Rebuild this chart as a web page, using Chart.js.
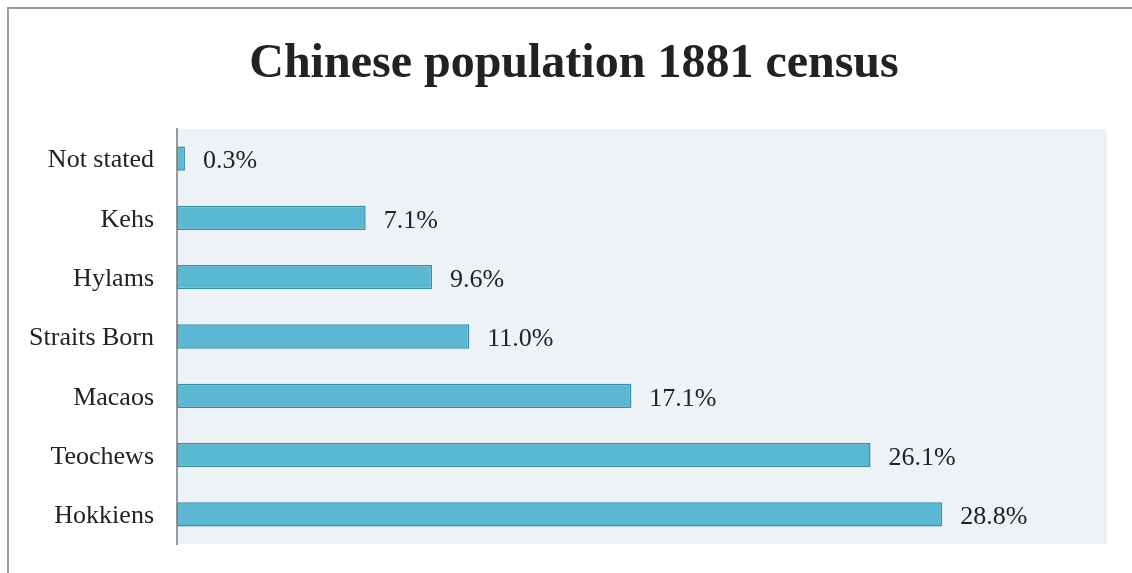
<!DOCTYPE html>
<html>
<head>
<meta charset="utf-8">
<title>Chinese population 1881 census</title>
<script src="https://cdn.jsdelivr.net/npm/chart.js@4"></script>
<style>
  html, body { margin: 0; padding: 0; background: #fff; }
  #frame {
    position: absolute; left: 7px; top: 7px; width: 1125px; height: 566px;
    border-top: 2px solid #9c9c9c; border-left: 2px solid #9c9c9c;
    box-sizing: border-box;
  }
  #wrap { position: absolute; left: 0; top: 0; width: 1132px; height: 573px; }
</style>
</head>
<body>
<div id="frame"></div>
<div id="wrap"><canvas id="chart" width="1132" height="573"></canvas></div>
<script>
'use strict';

var titleText = 'Chinese population 1881 census';
// Dialect groups, top to bottom
var groups = ['Not stated', 'Kehs', 'Hylams', 'Straits Born', 'Macaos', 'Teochews', 'Hokkiens'];
// Share of the Chinese population, percent
var shares = [0.3, 7.1, 9.6, 11.0, 17.1, 26.1, 28.8];
var axisMax = 35;

var serif = '"Liberation Serif", "Times New Roman", serif';

// Light panel behind the bars
var plotBackground = {
  id: 'plotBackground',
  beforeDraw: function(chart) {
    var a = chart.chartArea;
    var ctx = chart.ctx;
    ctx.save();
    ctx.fillStyle = '#ecf2f5';
    ctx.fillRect(a.left, a.top, a.right - a.left, a.bottom - a.top);
    ctx.restore();
  }
};

// Big bold heading, centred on the page rather than on the plot
var heading = {
  id: 'heading',
  afterDraw: function(chart) {
    var ctx = chart.ctx;
    ctx.save();
    ctx.font = 'bold 48px ' + serif;
    ctx.fillStyle = '#222';
    ctx.textAlign = 'center';
    ctx.textBaseline = 'middle';
    ctx.fillText(titleText, 574, 65);
    ctx.restore();
  }
};

// Percentage written just past the end of each bar
var valueLabels = {
  id: 'valueLabels',
  afterDatasetsDraw: function(chart) {
    var ctx = chart.ctx;
    var meta = chart.getDatasetMeta(0);
    ctx.save();
    ctx.font = '26px ' + serif;
    ctx.fillStyle = '#222';
    ctx.textAlign = 'left';
    ctx.textBaseline = 'middle';
    meta.data.forEach(function(bar, i) {
      ctx.fillText(shares[i].toFixed(1) + '%', bar.x + 18, bar.y + 3);
    });
    ctx.restore();
  }
};

new Chart(document.getElementById('chart'), {
  type: 'bar',
  data: {
    labels: groups,
    datasets: [{
      data: shares,
      backgroundColor: '#5bb8d3',
      borderColor: '#3a8ea4',
      borderWidth: 1.5,
      borderSkipped: false,
      categoryPercentage: 1,
      barPercentage: 0.41
    }]
  },
  options: {
    indexAxis: 'y',
    responsive: false,
    animation: false,
    layout: { padding: { left: 0, right: 25, top: 129, bottom: 29 } },
    plugins: {
      legend: { display: false },
      tooltip: { enabled: false },
      title: { display: false }
    },
    scales: {
      x: {
        display: false,
        min: 0,
        max: axisMax
      },
      y: {
        grid: { display: false, drawTicks: false },
        border: { display: true, color: '#9a9a9a', width: 2 },
        ticks: {
          color: '#222',
          padding: 23,
          labelOffset: 2,
          font: { family: serif, size: 26 }
        },
        afterFit: function(scale) {
          scale.width = 177;
          scale.paddingTop = 0;
          scale.paddingBottom = 0;
        }
      }
    }
  },
  plugins: [plotBackground, valueLabels, heading]
});
</script>
</body>
</html>
